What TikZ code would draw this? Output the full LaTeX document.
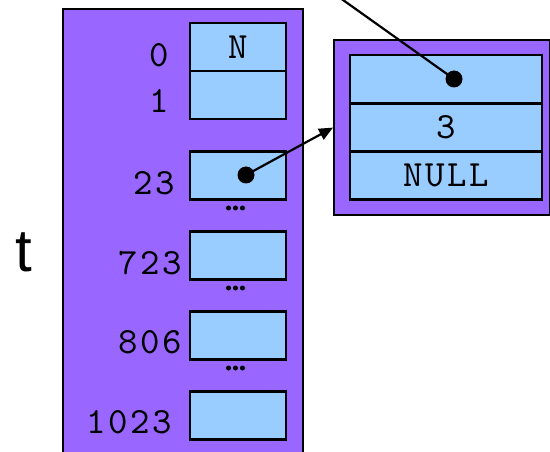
\documentclass[tikz,border=0pt]{standalone}
\usepackage{fontspec}
\setmainfont{Liberation Sans}
\newfontfamily\cellmono{lmmono10-regular.otf}[LetterSpace=6.5]
\usetikzlibrary{arrows.meta}
\definecolor{tblpurple}{HTML}{9966FF}
\definecolor{cellblue}{HTML}{99CCFF}
\newcommand{\cellfont}{\cellmono\fontsize{37}{37}\selectfont}
\tikzset{
  frame/.style={draw=black, fill=tblpurple, line width=2.2pt, inner sep=0pt},
  cell/.style={draw=black, fill=cellblue, line width=2.2pt, inner sep=0pt,
    minimum width=96pt, minimum height=48pt, font=\cellfont},
  wide cell/.style={cell, minimum width=192pt},
  idx/.style={anchor=base east, inner sep=0pt, font=\cellfont},
  ptrdot/.style={circle, fill=black, inner sep=0pt, minimum size=17pt},
  gapdot/.style={circle, fill=black, inner sep=0pt, minimum size=5pt},
  link/.style={line width=2.2pt},
}
\begin{document}
\begin{tikzpicture}[x=1pt, y=-1pt]
\useasboundingbox (0,0) rectangle (550,452);

% hash table t: the frame and its buckets
\node[frame, anchor=north west, minimum width=240pt, minimum height=447pt] (table) at (62,8) {};
\node[font=\fontsize{60}{60}\selectfont, anchor=base west, inner sep=0pt] (tname) at (15,272) {t};

\node[cell] (b0) at (238,47) {N};
\node[cell] (b1) at (238,95) {};
\node[cell] (b23) at (238,175.5) {};
\node[cell] (b723) at (238,255.5) {};
\node[cell] (b806) at (238,335.5) {};
\node[cell] (b1023) at (238,415.5) {};

\node[idx] (i0) at (169,67) {0};
\node[idx] (i1) at (169,113) {1};
\node[idx] (i23) at (175,194) {23};
\node[idx] (i723) at (182,274) {723};
\node[idx] (i806) at (182,353) {806};
\node[idx] (i1023) at (172,433) {1023};

% elided buckets
\foreach \y [count=\k] in {208,288,368} {
  \node[gapdot] (ga\k) at (228.5,\y) {};
  \node[gapdot] (gb\k) at (235.5,\y) {};
  \node[gapdot] (gc\k) at (242.5,\y) {};
}

% list entry
\node[frame, anchor=north west, minimum width=216pt, minimum height=175pt] (entry) at (333,39) {};
\node[wide cell] (enext) at (446,79) {};
\node[wide cell] (eval) at (446,127.5) {3};
\node[wide cell] (enull) at (446,175.5) {NULL};

% pointers
\node[ptrdot] (p23) at (246,175) {};
\node[ptrdot] (pnext) at (454,79) {};
\coordinate (incoming) at (336,-5);

\draw[link, -{Triangle[length=14pt, width=12pt]}] (p23.center) -- (entry.west);
\draw[link] (incoming) -- (pnext.center);
\end{tikzpicture}
\end{document}
